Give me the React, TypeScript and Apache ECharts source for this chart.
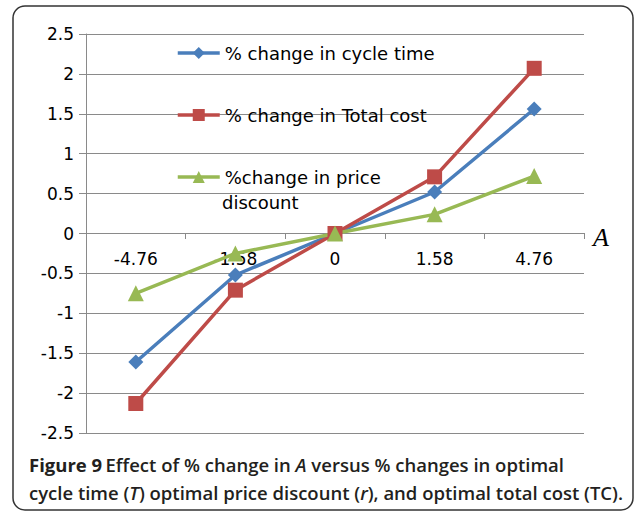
import React, { useEffect, useRef } from "react";
import * as echarts from "echarts";

const categories = ["-4.76", "-1.58", "0", "1.58", "4.76"];
const cycleTime = [-1.61, -0.52, 0, 0.52, 1.56];
const totalCost = [-2.13, -0.71, 0, 0.71, 2.07];
const priceDiscount = [-0.75, -0.25, 0, 0.24, 0.72];
const seriesNames = [
  "% change in cycle time",
  "% change in Total cost",
  "%change in price",
];
const yTicks = { min: -2.5, max: 2.5, interval: 0.5 };

export default function App() {
  const ref = useRef<HTMLDivElement>(null);
  useEffect(() => {
    if (!ref.current) return;
    const chart = echarts.init(ref.current, undefined, { renderer: "svg" });
    const grey = "#8a8a8a";
    const font = "DejaVu Sans";
    const mk = (name: string, data: number[], color: string, symbol: string, size: number) => ({
      name,
      type: "line",
      data,
      symbol,
      symbolSize: size,
      showAllSymbol: true,
      lineStyle: { color, width: 3.5 },
      itemStyle: { color },
      emphasis: { disabled: true },
    });
    const capFont = "Open Sans";
    const capSize = 18.5;
    chart.setOption({
      animation: false,
      backgroundColor: "#ffffff",
      grid: { left: 86, right: 50, top: 34, bottom: 81, containLabel: false },
      legend: {
        orient: "vertical",
        left: 171,
        top: 38,
        itemWidth: 42,
        itemHeight: 15,
        itemGap: 42,
        selectedMode: false,
        lineStyle: { width: 3.5 },
        textStyle: { fontFamily: font, fontSize: 18, color: "#000", lineHeight: 20 },
        data: seriesNames,
      },
      xAxis: {
        type: "category",
        data: categories,
        boundaryGap: true,
        position: "bottom",
        offset: -200,
        name: "A",
        nameLocation: "end",
        nameGap: 9,
        nameTextStyle: {
          fontFamily: "Liberation Serif",
          fontStyle: "italic",
          fontSize: 26,
          color: "#000",
          verticalAlign: "top",
          lineHeight: 26,
          padding: [-9, 0, 0, 0],
        },
        axisLine: { onZero: false, lineStyle: { color: grey, width: 1 } },
        axisTick: { show: true, length: 6, alignWithLabel: false, lineStyle: { color: grey } },
        axisLabel: { margin: 17, fontFamily: font, fontSize: 17, color: "#000" },
        splitLine: { show: false },
      },
      yAxis: {
        type: "value",
        min: yTicks.min,
        max: yTicks.max,
        interval: yTicks.interval,
        axisLine: { show: true, lineStyle: { color: grey, width: 1 } },
        axisTick: { show: true, length: 7, lineStyle: { color: grey } },
        axisLabel: { margin: 12, fontFamily: font, fontSize: 17, color: "#000" },
        splitLine: { show: true, lineStyle: { color: grey, width: 1 } },
      },
      series: [
        mk(seriesNames[0], cycleTime, "#4a7ebb", "diamond", 15),
        mk(seriesNames[1], totalCost, "#be4b48", "rect", 15),
        mk(seriesNames[2], priceDiscount, "#98b954", "triangle", 16),
      ],
      graphic: [
        {
          type: "rect",
          shape: { x: 13, y: 6, width: 620, height: 504, r: 12 },
          style: { fill: "none", stroke: "#333", lineWidth: 1.5 },
          silent: true,
          z: 10,
        },
        {
          type: "text",
          left: 222,
          top: 193,
          style: { text: "discount", fontFamily: font, fontSize: 18, fill: "#000" },
          silent: true,
        },
        {
          type: "text",
          left: 29,
          top: 455,
          style: {
            text:
              "{b|Figure 9} {n|Effect of % change in }{i|A}{n| versus % changes in optimal}\n" +
              "{n|cycle time (}{i|T}{n|) optimal price discount (}{i|r}{n|), and optimal total cost (TC).}",
            rich: {
              b: { fontFamily: capFont, fontWeight: "bold", fontSize: capSize, fill: "#231f20", lineHeight: 28 },
              n: { fontFamily: capFont, fontWeight: 600, fontSize: capSize, fill: "#231f20", lineHeight: 28 },
              i: { fontFamily: capFont, fontWeight: 600, fontStyle: "italic", fontSize: capSize, fill: "#231f20", lineHeight: 28 },
            },
          },
          silent: true,
        },
      ],
    });
    return () => chart.dispose();
  }, []);
  return (
    <div
      ref={ref}
      style={{ position: "fixed", left: 0, top: 0, width: 634, height: 514 }}
    />
  );
}
